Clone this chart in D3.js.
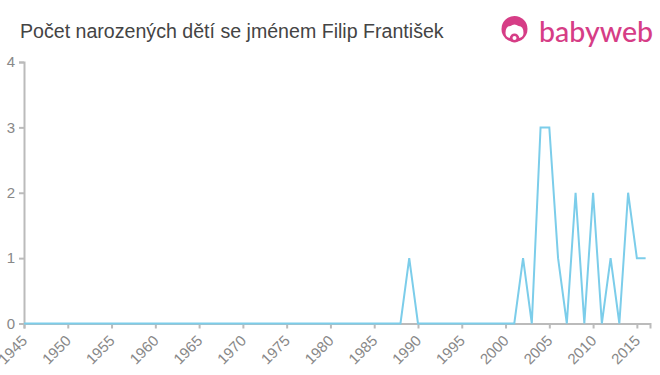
<!DOCTYPE html>
<html>
<head>
<meta charset="utf-8">
<script src="https://cdn.jsdelivr.net/npm/d3@7"></script>
<style>
  body { margin: 0; background: #fff; }
  #chart { width: 660px; height: 375px; }
  text { font-family: "Liberation Sans", Arial, sans-serif; }
</style>
</head>
<body>
<div id="chart"></div>
<script>
// years 1945..2016
var years = [1945,1946,1947,1948,1949,1950,1951,1952,1953,1954,1955,1956,1957,1958,1959,
  1960,1961,1962,1963,1964,1965,1966,1967,1968,1969,1970,1971,1972,1973,1974,
  1975,1976,1977,1978,1979,1980,1981,1982,1983,1984,1985,1986,1987,1988,1989,
  1990,1991,1992,1993,1994,1995,1996,1997,1998,1999,2000,2001,2002,2003,2004,
  2005,2006,2007,2008,2009,2010,2011,2012,2013,2014,2015,2016];
var counts = [0,0,0,0,0,0,0,0,0,0,0,0,0,0,0,
  0,0,0,0,0,0,0,0,0,0,0,0,0,0,0,
  0,0,0,0,0,0,0,0,0,0,0,0,0,0,1,
  0,0,0,0,0,0,0,0,0,0,0,0,1,0,3,
  3,1,0,2,0,2,0,1,0,2,1,1];
var xTicks = [1945,1950,1955,1960,1965,1970,1975,1980,1985,1990,1995,2000,2005,2010,2015];
var yTicks = [0,1,2,3,4];

var title = "Počet narozených dětí se jménem Filip František";

var svg = d3.select("#chart").append("svg")
    .attr("width", 660)
    .attr("height", 375);

var x = d3.scaleLinear().domain([1945, 2016.5]).range([24, 650]);
var y = d3.scaleLinear().domain([0, 4]).range([323.5, 62]);

// title
svg.append("text")
    .attr("x", 20)
    .attr("y", 38)
    .style("font-size", "19.6px")
    .style("fill", "#444")
    .text(title);

// logo
var logo = svg.append("g").attr("transform", "translate(514.5,29)");
logo.append("circle").attr("r", 13).style("fill", "#d63d86");
logo.append("path")
    .attr("d", "M-9,4 Q-9,-3 -4,-3 Q0,-6 4,-3 Q9,-3 9,4 Q9,8 5,9 L3,6 L-3,6 L-5,9 Q-9,8 -9,4 Z")
    .style("fill", "#fff");
logo.append("circle").attr("cx", 0).attr("cy", 9).attr("r", 4.5).style("fill", "#d63d86");
logo.append("circle").attr("cx", 0).attr("cy", 9).attr("r", 2).style("fill", "#fff");
svg.append("text")
    .attr("x", 539)
    .attr("y", 42)
    .style("font-family", "Lato, 'Open Sans', sans-serif")
    .style("font-size", "28.5px")
    .style("font-weight", "500")
    .style("fill", "#d63d86")
    .text("babyweb");

// axes
var xAxis = svg.append("g")
    .attr("transform", "translate(0,323.5)")
    .call(d3.axisBottom(x).tickValues(xTicks).tickFormat(d3.format("d")).tickSize(5));
xAxis.selectAll("text")
    .attr("x", 0)
    .attr("y", 0)
    .attr("dy", "0.35em")
    .attr("transform", "translate(0,14.5) rotate(-45)")
    .attr("text-anchor", "end");

var yAxis = svg.append("g")
    .attr("transform", "translate(24,0)")
    .call(d3.axisLeft(y).tickValues(yTicks).tickFormat(d3.format("d")).tickSize(5).tickPadding(4));

svg.selectAll(".domain").style("stroke", "#bbb").style("stroke-width", 2);
svg.selectAll(".tick line").style("stroke", "#bbb").style("stroke-width", 2);
svg.selectAll(".tick text").style("fill", "#888").style("font-size", "15px")
    .style("font-family", "'Liberation Sans', Arial, sans-serif");

// line
var line = d3.line()
    .x(function(d, i){ return x(years[i]); })
    .y(function(d){ return y(d); });

svg.append("path")
    .datum(counts)
    .attr("d", line)
    .style("fill", "none")
    .style("stroke", "#7ccdea")
    .style("stroke-width", 2);
</script>
</body>
</html>
